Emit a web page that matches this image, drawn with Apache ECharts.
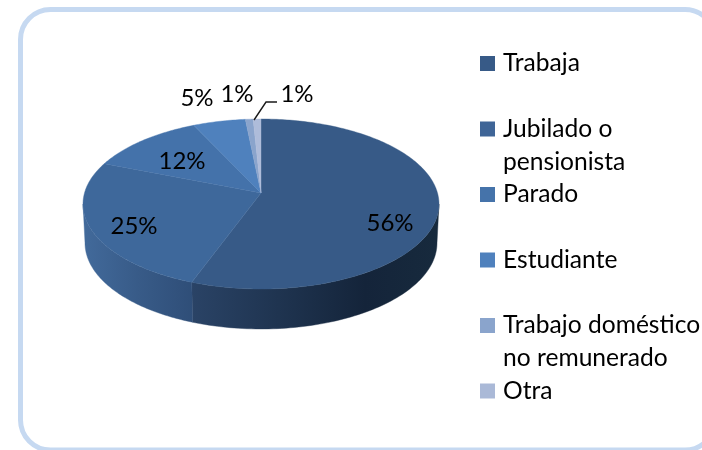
<!DOCTYPE html>
<html>
<head>
<meta charset="utf-8">
<style>html,body{margin:0;padding:0;background:#fff}#c{width:702px;height:450px}</style>
<script src="https://cdn.jsdelivr.net/npm/echarts@6/dist/echarts.min.js"></script>
</head>
<body>
<div id="c"></div>
<script>
// Data
const categories = ['Trabaja', 'Jubilado o\npensionista', 'Parado', 'Estudiante', 'Trabajo doméstico\nno remunerado', 'Otra'];
const shares = [55.6, 25.4, 12, 5.4, 0.8, 0.8];
const labels = ['56%', '25%', '12%', '5%', '1%', '1%'];

// Styles
const topColors = ['#375a87', '#3e689b', '#4472aa', '#4f81bd', '#8aa4cc', '#aebcda'];
const legendColors = ['#375a87', '#3f6597', '#4573aa', '#4f81bd', '#8aa4cc', '#aab9d7'];
const wallStops = [
  [[0, '#2a4366'], [0.35, '#1f3450'], [0.7, '#14243a'], [1, '#172a3d']],
  [[0, '#426a9b'], [0.5, '#385b88'], [1, '#2f4e78']]
];
const FONT = 'Lato, Carlito, sans-serif';

// Layout of the tilted disc
const CX = 261, CY = 204, RX = 178, RY = 85;
const BOT_CY = 243, BOT_RX = 176, BOT_RY = 86;
const TILT = 0.129;            // perspective shift of the disc centre
const labelAt = [[390, 223], [134, 226], [182, 161], [197, 98], [237, 94], [297, 94]];

const total = shares.reduce((a, b) => a + b, 0);
const cumulative = [];
shares.reduce((acc, v, i) => { cumulative[i] = acc; return acc + v; }, 0);

// Angle on the disc -> ellipse parameter, projective so the apex sits off-centre
function project(theta) {
  const u = Math.sin(theta), v = Math.cos(theta);
  const d = 1 + TILT * v;
  return { u: u * Math.sqrt(1 - TILT * TILT) / d, v: (v + TILT) / d };
}
function ellipseAngle(theta) {
  const p = project(theta);
  let a = Math.atan2(p.u, p.v);
  if (a < 0) a += Math.PI * 2;
  return a;
}

function renderSlice(idx) {
  return function (params, api) {
    const value = api.value(0);
    const a0 = cumulative[idx] / total * Math.PI * 2;
    const a1 = (cumulative[idx] + value) / total * Math.PI * 2;
    const children = [];

    // side wall: only the front half of the ellipse shows
    const p0 = a0 === 0 ? 0 : ellipseAngle(a0);
    const p1 = a1 >= Math.PI * 2 - 1e-6 ? Math.PI * 2 : ellipseAngle(a1);
    const w0 = Math.max(p0, Math.PI / 2), w1 = Math.min(p1, Math.PI * 1.5);
    if (w1 > w0 && wallStops[idx]) {
      const n = 80, topEdge = [], botEdge = [];
      for (let i = 0; i <= n; i++) {
        const t = w0 + (w1 - w0) * i / n;
        topEdge.push([CX + RX * Math.sin(t), CY - RY * Math.cos(t)]);
        botEdge.push([CX + BOT_RX * Math.sin(t), BOT_CY - BOT_RY * Math.cos(t)]);
      }
      const points = topEdge.concat(botEdge.reverse());
      const fill = new echarts.graphic.LinearGradient(0, 0, 1, 0,
        wallStops[idx].map(s => ({ offset: s[0], color: s[1] })));
      children.push({ type: 'polygon', shape: { points }, style: { fill, stroke: fill, lineWidth: 0.4 } });
    }

    // top face, from the off-centre apex round the rim
    const n = Math.max(6, Math.ceil((a1 - a0) * 60));
    const pts = [[CX, CY - RY * TILT]];
    for (let i = 0; i <= n; i++) {
      const p = project(a0 + (a1 - a0) * i / n);
      pts.push([CX + RX * p.u, CY - RY * p.v]);
    }
    children.push({ type: 'polygon', shape: { points: pts }, style: { fill: topColors[idx], stroke: topColors[idx], lineWidth: 0.4 } });

    return { type: 'group', children };
  };
}

function renderLabels() {
  return function () {
    const children = labels.map((t, i) => ({
      type: 'text',
      style: { text: t, x: labelAt[i][0], y: labelAt[i][1], align: 'center', verticalAlign: 'middle',
        fill: '#000', font: '24px ' + FONT }
    }));
    children.push({ type: 'polyline', shape: { points: [[254, 120], [266, 102], [277, 102]] },
      style: { stroke: '#1a1a1a', lineWidth: 1.4, fill: 'none' } });
    return { type: 'group', children };
  };
}

const series = categories.map((name, i) => ({
  type: 'custom', name, coordinateSystem: 'none', silent: true, animation: false,
  itemStyle: { color: legendColors[i] },
  data: [[shares[i]]],
  renderItem: renderSlice(i), clip: false
}));
series.push({
  type: 'custom', coordinateSystem: 'none', silent: true, animation: false, z: 5,
  data: [[0]], renderItem: renderLabels()
});

const chart = echarts.init(document.getElementById('c'), null, { renderer: 'canvas' });
chart.setOption({
  animation: false,
  backgroundColor: '#ffffff',
  graphic: [{
    type: 'rect', silent: true, z: -1,
    shape: { x: 20.5, y: 9.5, width: 694.5, height: 440.5, r: 30 },
    style: { fill: '#fff', stroke: '#c6d9f1', lineWidth: 5 }
  }],
  legend: {
    orient: 'vertical', left: 480, top: 14, padding: 0,
    itemWidth: 15, itemHeight: 15, itemGap: -33.5, selectedMode: false,
    icon: 'rect',
    data: categories,
    formatter: n => '\n' + n + (n.indexOf('\n') < 0 ? '\n ' : ''),
    textStyle: { fontFamily: FONT, fontSize: 24.6, lineHeight: 33, color: '#000', padding: [0, 0, 0, 3] }
  },
  series
});
</script>
</body>
</html>
